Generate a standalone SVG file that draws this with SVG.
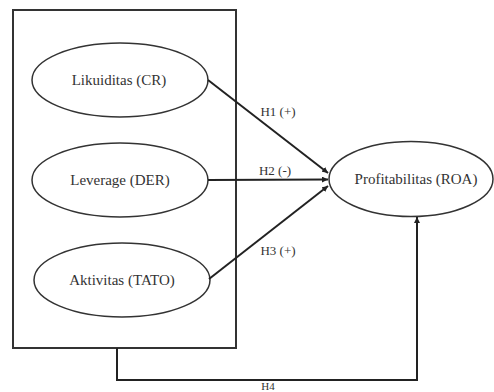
<svg xmlns="http://www.w3.org/2000/svg" width="494" height="392" viewBox="0 0 494 392">
<defs>
<style>
.node ellipse{fill:#fff;stroke:#333;stroke-width:1.5}
.box{fill:none;stroke:#333;stroke-width:2}
text{font-family:'Liberation Serif','DejaVu Serif',serif;fill:#333;text-anchor:middle}
.nt{font-size:15px}
.lt{font-size:13px}
.conn path{fill:none;stroke:#222;stroke-width:2}
</style>
<marker id="ah" viewBox="0 0 10 10" refX="10" refY="5" markerWidth="3" markerHeight="3" orient="auto" markerUnits="strokeWidth">
<path d="M0,0 L10,5 L0,10 z" fill="#222"/>
</marker>
</defs>
<rect width="494" height="392" fill="#fff"/>
<rect id="group-box" class="box" x="13" y="10" width="223" height="338"/>
<g id="n-cr" class="node"><ellipse cx="120" cy="80" rx="88" ry="37"/><text class="nt" x="119" y="85">Likuiditas (CR)</text></g>
<g id="n-der" class="node"><ellipse cx="120" cy="180" rx="88" ry="37"/><text class="nt" x="120" y="185">Leverage (DER)</text></g>
<g id="n-tato" class="node"><ellipse cx="122" cy="280" rx="88" ry="37"/><text class="nt" x="122" y="285">Aktivitas (TATO)</text></g>
<g id="n-roa" class="node"><ellipse cx="411" cy="179" rx="82" ry="37.5"/><text class="nt" x="416" y="184">Profitabilitas (ROA)</text></g>
<g id="connectors" class="conn">
<path d="M208,80 L328,173" marker-end="url(#ah)"/>
<path d="M208,180 L328,179.5" marker-end="url(#ah)"/>
<path d="M209,279 L328,186" marker-end="url(#ah)"/>
<path d="M117,348 L117,380 L417,380 L417,217" marker-end="url(#ah)"/>
</g>
<g id="labels">
<text class="lt" x="278" y="116">H1 (+)</text>
<text class="lt" x="275" y="175">H2 (-)</text>
<text class="lt" x="278" y="255">H3 (+)</text>
<text class="lt" x="268" y="390" style="font-size:11px">H4</text>
</g>
</svg>
